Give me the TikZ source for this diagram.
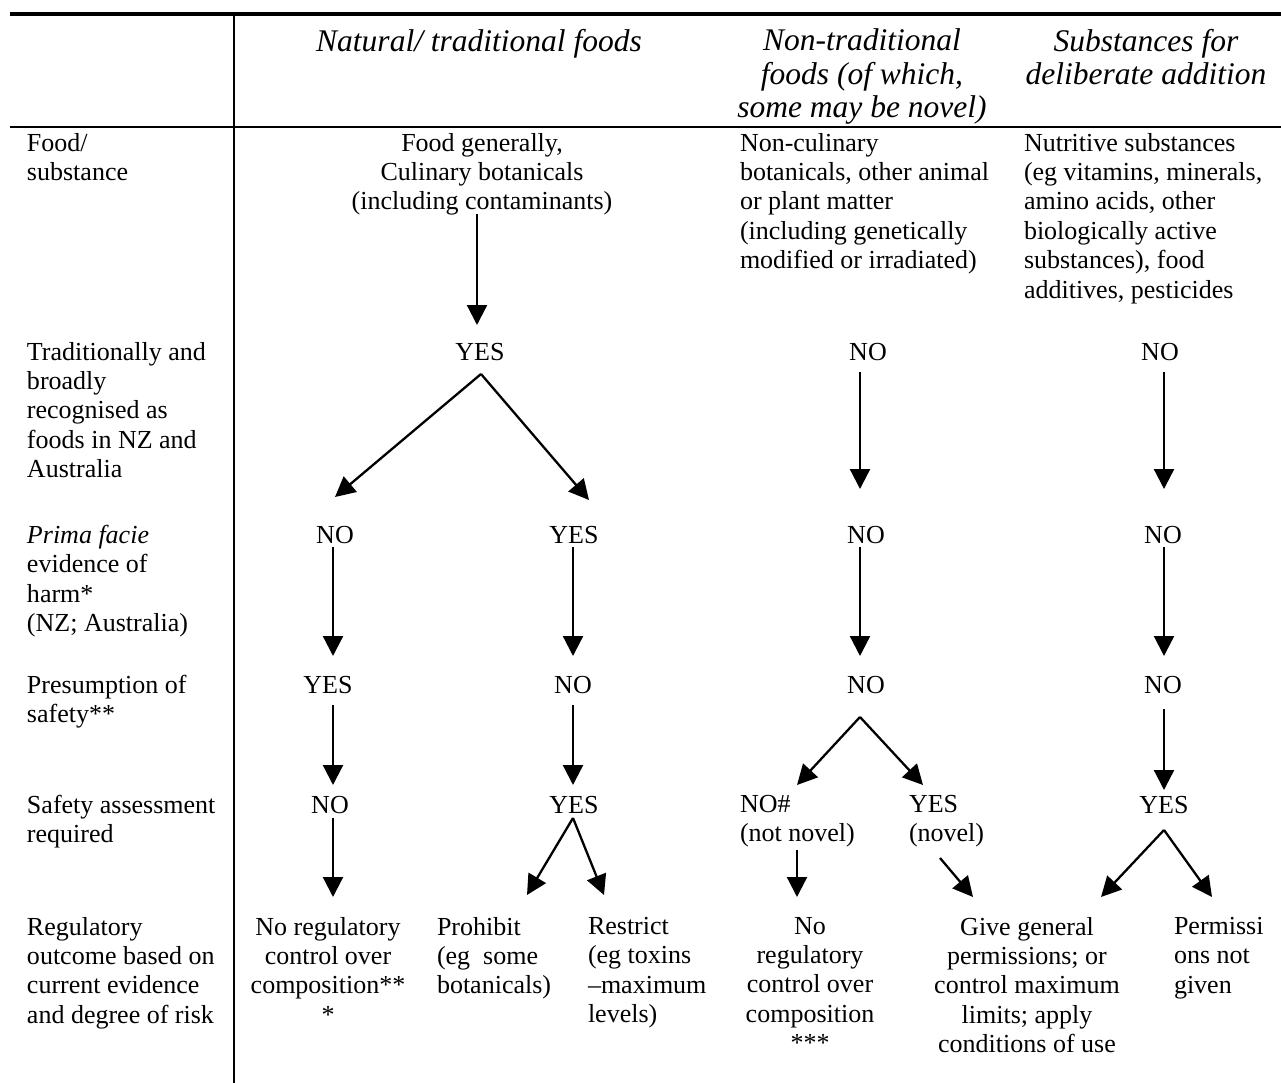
\documentclass[tikz,border=0pt]{standalone}
\usepackage{fontspec}
\setmainfont{Liberation Serif}
\usetikzlibrary{arrows.meta}
\tikzset{
  body/.style={inner sep=0pt, outer sep=0pt, font=\fontsize{26}{29.4}\selectfont},
  lbl/.style={body, anchor=north west, align=left},
  ctr/.style={body, anchor=north, align=center},
  ans/.style={body, anchor=base},
  head/.style={inner sep=0pt, outer sep=0pt, anchor=north, align=center, font=\fontsize{31.5}{33.5}\selectfont\itshape},
  arr/.style={line width=2.3pt, -{Triangle[length=20pt,width=20pt]}},
  rule/.style={line width=2pt},
  toprule/.style={line width=4pt}
}
\begin{document}
\begin{tikzpicture}[x=1pt,y=1pt]
\useasboundingbox (0,0) rectangle (1281,-1083);
% table rules
\draw[toprule] (10,-14) -- (1281,-14);
\draw[rule] (234,-16) -- (234,-1083);
\draw[rule] (10,-127) -- (1281,-127);
% headers
\node[head] (h1) at (479,-29) {Natural/ traditional foods};
\node[head] (h2) at (862,-29) {Non-traditional\\foods (of which,\\some may be novel)};
\node[head] (h3) at (1146,-29) {Substances for\\deliberate addition};
% row labels
\node[lbl] (l1) at (27,-133) {Food/\\substance};
\node[lbl] (l2) at (27,-342) {Traditionally and\\broadly\\recognised as\\foods in NZ and\\Australia};
\node[lbl] (l3) at (27,-525) {\textit{Prima facie}\\evidence of\\harm*\\(NZ; Australia)};
\node[lbl] (l4) at (27,-675) {Presumption of\\safety**};
\node[lbl] (l5) at (27,-795) {Safety assessment\\required};
\node[lbl] (l6) at (27,-917) {Regulatory\\outcome based on\\current evidence\\and degree of risk};
% column 1
\node[ctr] (fg) at (482,-133) {Food generally,\\Culinary botanicals\\(including contaminants)};
\node[ans] (yes1) at (480,-360) {YES};
\node[ans] (no2) at (335,-543) {NO};
\node[ans] (yes2) at (574,-543) {YES};
\node[ans] (yes3) at (328,-693) {YES};
\node[ans] (no3) at (573,-693) {NO};
\node[ans] (no4) at (330,-813) {NO};
\node[ans] (yes4) at (574,-813) {YES};
\node[ctr] (out1) at (328,-917) {No regulatory\\control over\\composition**\\*};
\node[lbl] (out2) at (437,-917) {Prohibit\\(eg\ \ some\\botanicals)};
\node[lbl] (out3) at (588,-917) {Restrict\\(eg toxins\\–maximum\\levels)};
% column 2
\node[lbl] (nc) at (740,-133) {Non-culinary\\botanicals, other animal\\or plant matter\\(including genetically\\modified or irradiated)};
\node[ans] (no5) at (868,-360) {NO};
\node[ans] (no6) at (866,-543) {NO};
\node[ans] (no7) at (866,-693) {NO};
\node[lbl] (no8) at (740,-795) {NO\#\\(not novel)};
\node[lbl] (yes8) at (909,-795) {YES\\(novel)};
\node[ctr] (out4) at (810,-917) {No\\regulatory\\control over\\composition\\***};
\node[ctr] (out5) at (1027,-917) {Give general\\permissions; or\\control maximum\\limits; apply\\conditions of use};
% column 3
\node[lbl] (ns) at (1024,-133) {Nutritive substances\\(eg vitamins, minerals,\\amino acids, other\\biologically active\\substances), food\\additives, pesticides};
\node[ans] (no9) at (1160,-360) {NO};
\node[ans] (no10) at (1163,-543) {NO};
\node[ans] (no11) at (1163,-693) {NO};
\node[ans] (yes11) at (1164,-813) {YES};
\node[lbl] (out6) at (1174,-917) {Permissi\\ons not\\given};
% arrows column 1
\draw[arr] ([shift={(-5,-81)}]fg.north) -- ([shift={(-3,35)}]yes1.base);
\draw[arr] ([shift={(1,-14)}]yes1.base) -- ([shift={(0,46)}]no2.base);
\draw[arr] ([shift={(1,-14)}]yes1.base) -- ([shift={(15,43)}]yes2.base);
\draw[arr] ([shift={(-2,-4)}]no2.base) -- ([shift={(5,37)}]yes3.base);
\draw[arr] ([shift={(-1,-4)}]yes2.base) -- ([shift={(0,37)}]no3.base);
\draw[arr] ([shift={(5,-12)}]yes3.base) -- ([shift={(3,28)}]no4.base);
\draw[arr] ([shift={(0,-12)}]no3.base) -- ([shift={(-1,28)}]yes4.base);
\draw[arr] ([shift={(3,-5)}]no4.base) -- ([shift={(5,20)}]out1.north);
\draw[arr] ([shift={(-1,-5)}]yes4.base) -- ([shift={(90,22)}]out2.north west);
\draw[arr] ([shift={(-1,-5)}]yes4.base) -- ([shift={(16,22)}]out3.north west);
% arrows column 2
\draw[arr] ([shift={(-8,-12)}]no5.base) -- ([shift={(-6,54)}]no6.base);
\draw[arr] ([shift={(-6,-4)}]no6.base) -- ([shift={(-6,37)}]no7.base);
\draw[arr] ([shift={(-6,-24)}]no7.base) -- ([shift={(57,10)}]no8.north west);
\draw[arr] ([shift={(-6,-24)}]no7.base) -- ([shift={(14,10)}]yes8.north west);
\draw[arr] ([shift={(57,-55)}]no8.north west) -- ([shift={(-13,20)}]out4.north);
\draw[arr] ([shift={(31,-63)}]yes8.north west) -- ([shift={(-54,20)}]out5.north);
% arrows column 3
\draw[arr] ([shift={(4,-12)}]no9.base) -- ([shift={(1,54)}]no10.base);
\draw[arr] ([shift={(1,-4)}]no10.base) -- ([shift={(1,37)}]no11.base);
\draw[arr] ([shift={(1,-16)}]no11.base) -- ([shift={(0,23)}]yes11.base);
\draw[arr] ([shift={(0,-17)}]yes11.base) -- ([shift={(74,20)}]out5.north);
\draw[arr] ([shift={(0,-17)}]yes11.base) -- ([shift={(38,20)}]out6.north west);
\end{tikzpicture}
\end{document}
